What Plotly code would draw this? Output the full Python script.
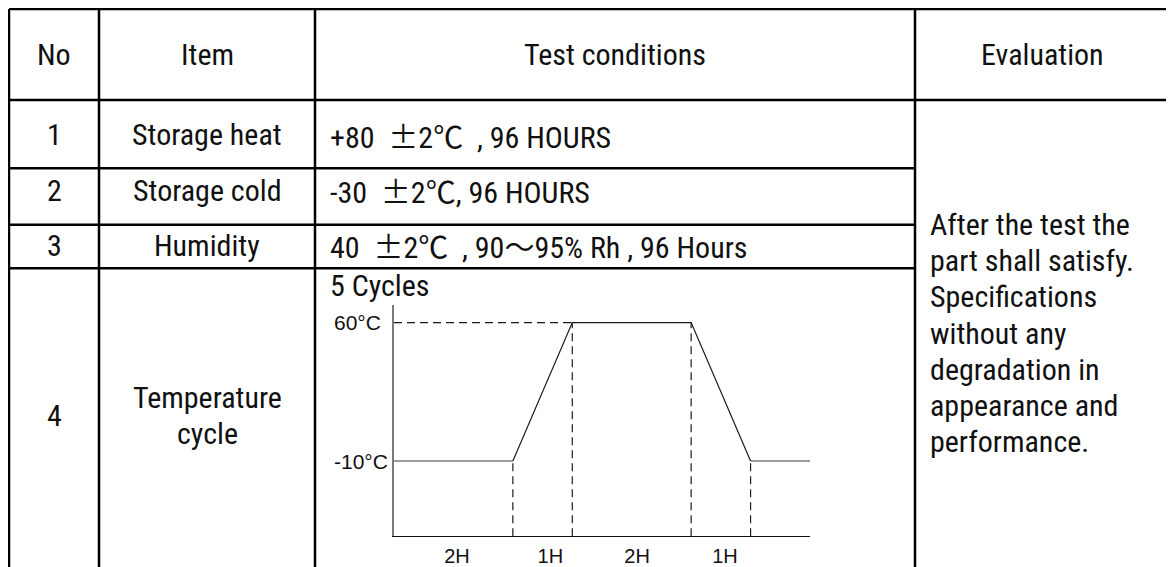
import plotly.graph_objects as go

# page is offset by the 8px body margin; figure fills the rest of the window
OFF = 8
W, H = 1174 - OFF, 567 - OFF

# ---------------- data ----------------
headers = ["No", "Item", "Test conditions", "Evaluation"]
row_nos = ["1", "2", "3", "4"]
row_items = [["Storage heat"], ["Storage cold"], ["Humidity"], ["Temperature", "cycle"]]
CJK = "<span style=\"font-family:'Noto Sans CJK SC'\">%s</span>"
NB = "\u00a0"
row_conditions = [
    "+80" + NB * 2 + CJK % "±" + "2" + CJK % "℃" + NB * 2 + ", 96 HOURS",
    "-30" + NB * 2 + CJK % "±" + "2" + CJK % "℃" + ", 96 HOURS",
    "40" + NB * 2 + CJK % "±" + "2" + CJK % "℃" + NB * 2 + ", 90" + CJK % "～" + "95% Rh , 96 Hours",
    "5 Cycles",
]
evaluation_lines = ["After the test the", "part shall satisfy.", "Specifications",
                    "without any", "degradation in", "appearance and", "performance."]

time_h = [0, 2, 3, 5, 6, 7]
temp_c = [-10, -10, 60, 60, -10, -10]
temp_levels = [60, -10]
temp_level_labels = ["60°C", "-10°C"]
segment_labels = ["2H", "1H", "2H", "1H"]
segment_label_pos = [1.06, 2.63, 4.09, 5.57]

# ---------------- layout geometry (page pixels) ----------------
col_x = [9, 99, 315, 915, 1169]
row_y = [9, 101, 170, 227, 271, 567]
Y_MIN, Y_MAX = -48, 69


def px(x):
    return (x - OFF) / W


def py(y):
    return 1 - (y - OFF) / H


NARROW = "Roboto Condensed, Liberation Sans Narrow, Arial Narrow, Liberation Sans, sans-serif"
SANS = "Liberation Sans, Arial, sans-serif"
TXT = dict(family=NARROW, size=30, color="#111")

fig = go.Figure()

# ---------------- chart ----------------
low_x = [time_h[0], time_h[1], None, time_h[4], time_h[5]]
low_y = [temp_c[0], temp_c[1], None, temp_c[4], temp_c[5]]
fig.add_trace(go.Scatter(x=low_x, y=low_y, mode="lines",
                         line=dict(color="#7a7a7a", width=1.5), hoverinfo="skip"))
fig.add_trace(go.Scatter(x=time_h[1:5], y=temp_c[1:5], mode="lines",
                         line=dict(color="#1a1a1a", width=1.2), hoverinfo="skip"))

dx, dy = [time_h[0], time_h[2], None], [temp_c[2], temp_c[2], None]
for t, v in zip(time_h[1:5], temp_c[1:5]):
    dx += [t, t, None]
    dy += [Y_MIN, v, None]
fig.add_trace(go.Scatter(x=dx, y=dy, mode="lines",
                         line=dict(color="#1a1a1a", width=1.2, dash="8px,5px"),
                         hoverinfo="skip"))

fig.update_xaxes(domain=[px(394), px(810)], range=[0, 7], showgrid=False,
                 zeroline=False, showline=True, linecolor="#111", linewidth=1.2,
                 tickmode="array", tickvals=segment_label_pos, ticktext=segment_labels,
                 ticks="", tickfont=dict(family=SANS, size=20, color="#111"),
                 ticklabelstandoff=2, fixedrange=True)
fig.update_yaxes(domain=[py(542), py(308)], range=[Y_MIN, Y_MAX], showgrid=False,
                 zeroline=False, showline=True, linecolor="#7a7a7a", linewidth=1.5,
                 showticklabels=False, ticks="", fixedrange=True)

annotations = []
for v, lab in zip(temp_levels, temp_level_labels):
    annotations.append(dict(x=px(332), xref="paper", y=v, yref="y", text=lab,
                            xanchor="left", yanchor="middle", showarrow=False,
                            font=dict(family=SANS, size=21, color="#111")))

# ---------------- table lines ----------------
shapes = []
LW = 2.5
for yy in (row_y[0], row_y[1]):
    shapes.append(dict(type="line", xref="paper", yref="paper", x0=px(col_x[0]), x1=1.01,
                       y0=py(yy), y1=py(yy), line=dict(color="#000", width=LW)))
for yy in row_y[2:5]:
    shapes.append(dict(type="line", xref="paper", yref="paper", x0=px(col_x[0]), x1=px(col_x[3]),
                       y0=py(yy), y1=py(yy), line=dict(color="#000", width=LW)))
for xx in col_x[:4]:
    shapes.append(dict(type="line", xref="paper", yref="paper", x0=px(xx), x1=px(xx),
                       y0=py(row_y[0]), y1=-0.02, line=dict(color="#000", width=LW)))

# ---------------- table text ----------------
head_cy = 55
for i, h in enumerate(headers):
    cx = (col_x[i] + col_x[i + 1]) / 2
    annotations.append(dict(x=px(cx), y=py(head_cy), xref="paper", yref="paper", text=h,
                            showarrow=False, xanchor="center", yanchor="middle", font=TXT))

row_cy = [136, 192, 248, 420]
for i in range(4):
    cx0 = (col_x[0] + col_x[1]) / 2
    cx1 = (col_x[1] + col_x[2]) / 2
    annotations.append(dict(x=px(cx0), y=py(row_cy[i]), xref="paper", yref="paper",
                            text=row_nos[i], showarrow=False, xanchor="center",
                            yanchor="middle", font=TXT))
    lines = row_items[i]
    n = len(lines)
    for j, ln in enumerate(lines):
        yy = row_cy[i] + (j - (n - 1) / 2) * 37
        annotations.append(dict(x=px(cx1), y=py(yy), xref="paper", yref="paper",
                                text=ln, showarrow=False, xanchor="center",
                                yanchor="middle", font=TXT))

cond_cy = [136, 192, 248, 289]
for i, c in enumerate(row_conditions):
    annotations.append(dict(x=px(328), y=py(cond_cy[i]), xref="paper", yref="paper",
                            text=c, showarrow=False, xanchor="left", yanchor="middle",
                            font=TXT))

for j, ln in enumerate(evaluation_lines):
    yy = 226.5 + j * 36.7
    annotations.append(dict(x=px(928), y=py(yy), xref="paper", yref="paper", text=ln,
                            showarrow=False, xanchor="left", yanchor="middle", font=TXT))

fig.update_layout(width=W, height=H, margin=dict(l=0, r=0, t=0, b=0),
                  paper_bgcolor="white", plot_bgcolor="white", showlegend=False,
                  shapes=shapes, annotations=annotations)

fig.write_html("out.html", config={"displayModeBar": False})
